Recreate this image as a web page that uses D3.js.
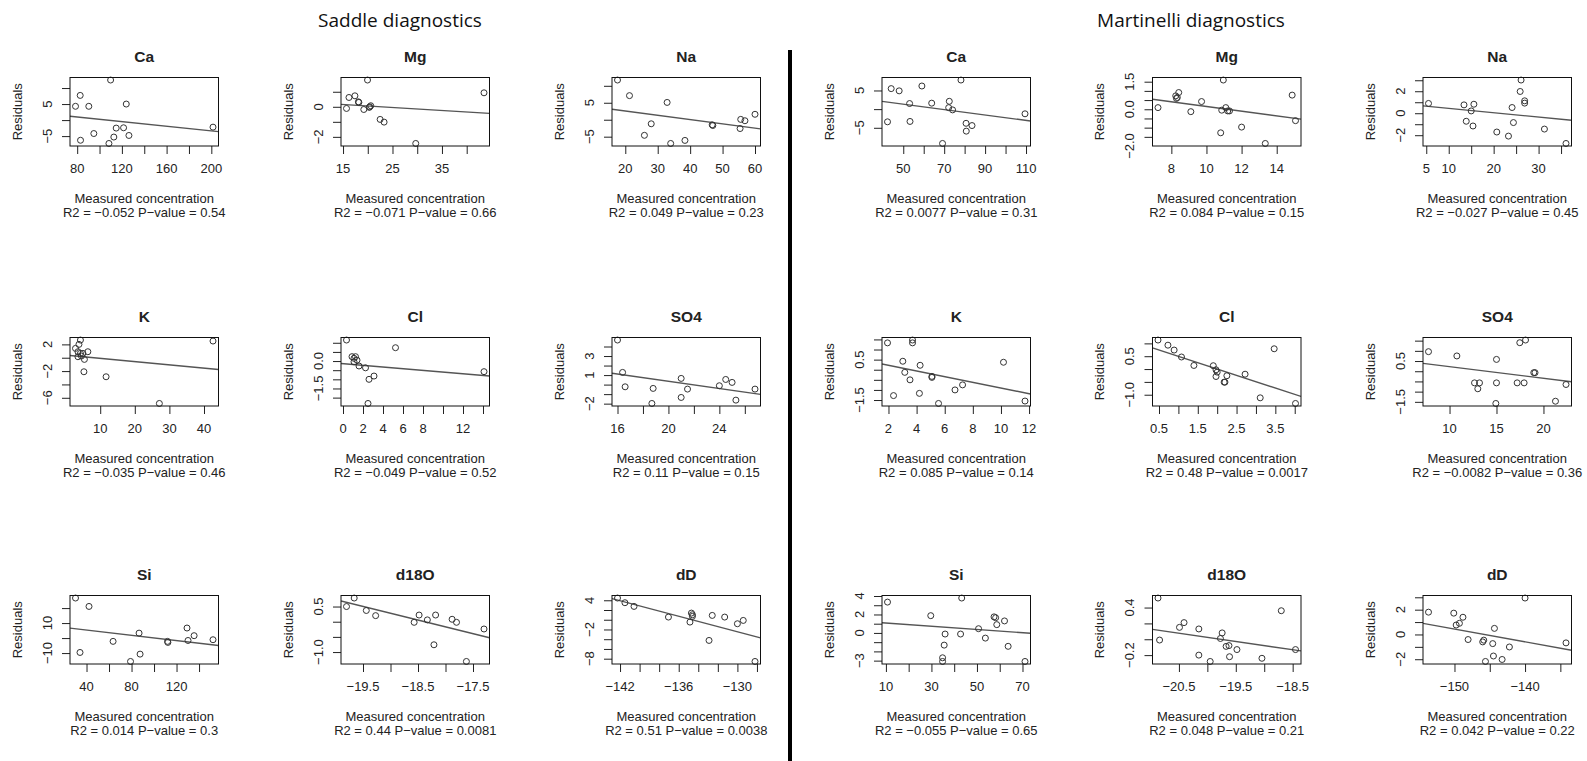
<!DOCTYPE html>
<html>
<head>
<meta charset="utf-8">
<script src="https://cdn.jsdelivr.net/npm/d3@7"></script>
<style>
body { margin: 0; background: #fff; }
svg { display: block; }
text { font-family: "Liberation Sans", Arial, Helvetica, sans-serif; fill: #222; }
.big { font-family: "Open Sans", "Noto Sans", sans-serif; font-size: 19px; fill: #111; }
</style>
</head>
<body>
<div id="chart"></div>
<script>
var W = 1587, H = 761;

// panel order: Ca, Mg, Na, K, Cl, SO4, Si, d18O, dD
var elements = ["Ca", "Mg", "Na", "K", "Cl", "SO4", "Si", "d18O", "dD"];
var sites = ["Saddle diagnostics", "Martinelli diagnostics"];

// ---- Saddle ----
var saddleX = [
  [109.9, 82.7, 78.5, 90.4, 123.9, 201.5, 114.9, 121.5, 94.9, 126.3, 112.8, 83.0, 108.4],
  [19.95, 43.5, 16.2, 17.4, 18.1, 18.2, 15.7, 19.2, 20.3, 20.6, 20.4, 22.5, 23.3, 29.7],
  [17.6, 21.3, 32.9, 60.0, 55.6, 56.9, 55.4, 46.8, 47.0, 28.0, 25.9, 38.4, 34.0],
  [4.29, 2.86, 3.86, 3.57, 4.29, 5.0, 3.57, 4.57, 5.43, 6.43, 5.29, 11.7, 27.1, 42.6],
  [0.35, 5.25, 0.9, 1.1, 1.25, 1.4, 1.1, 1.6, 2.25, 3.1, 2.6, 2.5, 14.1],
  [16.0, 16.4, 16.6, 18.8, 18.7, 21.0, 21.0, 21.5, 24.0, 24.5, 25.0, 25.3, 26.8],
  [30.2, 42.2, 34.2, 63.6, 86.7, 87.6, 79.1, 112, 112.3, 129.3, 130.2, 135.6, 152.4],
  [-19.80, -19.66, -19.44, -19.27, -18.57, -18.48, -18.33, -18.18, -18.21, -17.88, -17.8, -17.62, -17.3],
  [-142.26, -141.5, -140.57, -137.05, -134.7, -134.6, -134.6, -134.85, -132.9, -132.57, -131.3, -130, -129.4, -128.2]
];
var saddleY = [
  [12.5, 7.7, 4.3, 4.3, 5.0, -2.2, -2.5, -2.4, -4.2, -4.8, -5.3, -6.3, -7.3],
  [1.78, 0.93, 0.62, 0.73, 0.33, 0.29, -0.11, -0.18, -0.04, 0.07, 0.0, -0.84, -1.02, -2.44],
  [11.7, 7.1, 5.1, 1.6, 0.1, -0.3, -2.6, -1.5, -1.7, -1.2, -4.6, -6.1, -7.0],
  [2.65, 1.4, 2.0, 0.9, 0.65, 0.65, 0.15, 0.25, -0.25, 0.9, -2.1, -2.85, -6.85, 2.5],
  [1.15, 0.73, 0.24, 0.15, 0.24, 0.05, -0.04, -0.27, -0.37, -0.82, -1.0, -2.32, -0.58],
  [4.68, 1.28, -0.23, -0.4, -1.98, 0.65, -1.35, -0.47, -0.12, 0.54, 0.23, -1.63, -0.47],
  [26.7, 21.1, -9.6, -2.2, 3.3, -10.7, -15.6, -2.2, -2.9, 6.7, -1.6, 1.6, -1.1],
  [0.5, 0.78, 0.37, 0.2, -0.02, 0.22, 0.06, 0.22, -0.76, 0.08, -0.02, -1.31, -0.24],
  [4.46, 3.5, 2.74, 0.55, 1.37, 1.03, 0.69, -0.48, -4.25, 0.89, 0.55, -0.82, -0.14, -8.57]
];
var saddleIntercept = [3.84, 0.447, 5.11, 0.405, -0.1415, 4.138, 8.835, -8.238, -71.56];
var saddleSlope = [-0.0361, -0.0198, -0.1265, -0.0491, -0.046, -0.1896, -0.0875, -0.4483, -0.5315];
var saddleR2 = [-0.052, -0.071, 0.049, -0.035, -0.049, 0.11, 0.014, 0.44, 0.51];
var saddleP = [0.54, 0.66, 0.23, 0.46, 0.52, 0.15, 0.3, 0.0081, 0.0038];

var saddleXTicks = [
  [80, 100, 120, 140, 160, 180, 200], [15, 20, 25, 30, 35, 40], [20, 30, 40, 50, 60],
  [10, 20, 30, 40], [0, 2, 4, 6, 8, 10, 12, 14], [16, 18, 20, 22, 24, 26],
  [40, 60, 80, 100, 120, 140], [-19.5, -19, -18.5, -18, -17.5], [-142, -140, -138, -136, -134, -132, -130, -128]
];
var saddleXLabels = [
  [80, 120, 160, 200], [15, 25, 35], [20, 30, 40, 50, 60],
  [10, 20, 30, 40], [0, 2, 4, 6, 8, 12], [16, 20, 24],
  [40, 80, 120], [-19.5, -18.5, -17.5], [-142, -136, -130]
];
var saddleYTicks = [
  [-5, 0, 5, 10], [-2, -1, 0, 1], [-5, 0, 5, 10],
  [-6, -4, -2, 0, 2], [-2, -1.5, -1, -0.5, 0, 0.5, 1], [-2, -1, 0, 1, 2, 3, 4],
  [-10, 0, 10, 20], [-1, -0.5, 0, 0.5], [-8, -6, -4, -2, 0, 2, 4]
];
var saddleYLabels = [
  [-5, 5], [-2, 0], [-5, 5],
  [-6, -2, 2], [-1.5, 0], [-2, 1, 3],
  [-10, 10], [-1, 0.5], [-8, -2, 4]
];

// ---- Martinelli ----
var martX = [
  [44.1, 48.0, 59.1, 78.2, 53.1, 63.9, 72.5, 72.2, 74.1, 109.5, 42.3, 53.3, 80.7, 83.6, 80.8, 69.2],
  [7.24, 8.25, 8.42, 8.34, 8.29, 9.11, 9.72, 10.96, 14.88, 10.87, 11.10, 11.21, 11.31, 15.07, 12.0, 10.81, 13.35],
  [5.5, 13.4, 15.6, 15.0, 13.9, 15.4, 20.7, 23.3, 24.1, 24.4, 26.1, 25.9, 26.9, 26.9, 31.3, 36.1],
  [1.93, 3.71, 3.71, 3.02, 3.16, 4.25, 3.53, 5.09, 5.09, 4.2, 2.36, 5.56, 6.73, 7.27, 10.18, 11.71],
  [0.474, 0.73, 0.89, 1.08, 1.40, 1.90, 1.97, 2.0, 1.97, 2.25, 2.18, 2.2, 2.72, 3.47, 3.11, 4.02],
  [7.76, 10.78, 15.0, 17.48, 18.09, 12.66, 13.19, 13.01, 15.0, 17.2, 17.94, 18.97, 19.1, 22.4, 21.28, 14.93],
  [10.7, 29.7, 43.3, 36.0, 42.8, 35.6, 34.9, 34.9, 50.7, 53.7, 57.5, 58.2, 58.7, 62.1, 63.7, 71.1],
  [-20.868, -20.84, -20.49, -20.41, -20.15, -20.15, -19.95, -19.77, -19.74, -19.67, -19.62, -19.61, -19.48, -19.04, -18.70, -18.45],
  [-153.68, -150.1, -149.76, -149.3, -148.8, -148.07, -146.0, -145.85, -145.61, -144.58, -144.34, -144.48, -143.25, -142.22, -140.0, -134.2]
];
var martY = [
  [5.5, 4.9, 6.2, 7.8, 1.5, 1.6, 2.1, 0.4, -0.2, -1.25, -3.4, -3.3, -3.8, -4.4, -5.9, -9.2],
  [0.09, 0.73, 0.91, 0.64, 0.59, -0.13, 0.42, 1.59, 0.77, -0.05, 0.09, -0.09, -0.09, -0.62, -0.97, -1.28, -1.86],
  [0.89, 0.76, 0.82, 0.21, -0.73, -1.16, -1.71, -2.08, 0.52, -0.85, 3.02, 1.98, 1.13, 0.92, -1.44, -2.75],
  [1.33, 1.33, 1.47, 0.42, -0.13, 0.22, -0.5, -0.33, -0.38, -1.17, -1.28, -1.67, -1.0, -0.75, 0.37, -1.55],
  [1.13, 0.93, 0.74, 0.47, 0.14, 0.13, -0.03, -0.12, -0.29, -0.26, -0.51, -0.51, -0.2, 0.79, -1.12, -1.34],
  [0.96, 0.75, 0.58, 1.40, 1.53, -0.57, -0.57, -0.86, -0.57, -0.57, -0.57, -0.07, -0.07, -0.65, -1.47, -1.58],
  [3.34, 1.87, 3.78, -0.12, -0.12, -1.32, -2.69, -3.09, 0.46, -0.56, 1.74, 1.65, 0.9, 1.3, -1.45, -3.09],
  [0.52, -0.01, 0.15, 0.21, 0.13, -0.2, -0.28, 0.01, 0.08, -0.09, -0.08, -0.22, -0.13, -0.24, 0.36, -0.13],
  [1.80, 1.72, 0.76, 0.9, 1.39, -0.41, -0.6, -0.46, -2.18, -0.74, 0.49, -1.74, -2.02, -1.01, 2.94, -0.68]
];
var martIntercept = [4.935, 1.432, 0.838, 0.499, 0.992, 0.793, 1.255, -2.0557, -15.037];
var martSlope = [-0.0723, -0.128, -0.0395, -0.1403, -0.4944, -0.057, -0.0175, -0.104, -0.10317];
var martR2 = [0.0077, 0.084, -0.027, 0.085, 0.48, -0.0082, -0.055, 0.048, 0.042];
var martP = [0.31, 0.15, 0.45, 0.14, 0.0017, 0.36, 0.65, 0.21, 0.22];

var martXTicks = [
  [50, 60, 70, 80, 90, 100, 110], [8, 10, 12, 14], [5, 10, 15, 20, 25, 30, 35],
  [2, 4, 6, 8, 10, 12], [0.5, 1, 1.5, 2, 2.5, 3, 3.5, 4], [10, 15, 20],
  [10, 20, 30, 40, 50, 60, 70], [-20.5, -20, -19.5, -19, -18.5], [-150, -145, -140, -135]
];
var martXLabels = [
  [50, 70, 90, 110], [8, 10, 12, 14], [5, 10, 20, 30],
  [2, 4, 6, 8, 10, 12], [0.5, 1.5, 2.5, 3.5], [10, 15, 20],
  [10, 30, 50, 70], [-20.5, -19.5, -18.5], [-150, -140]
];
var martYTicks = [
  [-5, 0, 5], [-2, -1.5, -1, -0.5, 0, 0.5, 1, 1.5], [-2, -1, 0, 1, 2, 3],
  [-1.5, -1, -0.5, 0, 0.5, 1, 1.5], [-1, -0.5, 0, 0.5, 1], [-1.5, -1, -0.5, 0, 0.5, 1, 1.5],
  [-3, -2, -1, 0, 1, 2, 3, 4], [-0.2, 0, 0.2, 0.4], [-2, -1, 0, 1, 2, 3]
];
var martYLabels = [
  [-5, 5], [-2, 0, 1.5], [-2, 0, 2],
  [-1.5, 0.5], [-1, 0.5], [-1.5, 0.5],
  [-3, 0, 2, 4], [-0.2, 0.4], [-2, 0, 2]
];

var colLeft = [70, 341, 612, 882, 1152.5, 1423];
var rowTop = [77.5, 337.5, 595.5];
var pw = 148.5, ph = 68.5;

var svg = d3.select("#chart").append("svg")
  .attr("width", W).attr("height", H);

// site headings and divider
svg.append("text").attr("class", "big").attr("x", 400).attr("y", 27)
  .attr("text-anchor", "middle").text(sites[0]);
svg.append("text").attr("class", "big").attr("x", 1191).attr("y", 27)
  .attr("text-anchor", "middle").text(sites[1]);
svg.append("line").attr("x1", 790).attr("x2", 790).attr("y1", 50).attr("y2", H)
  .style("stroke", "#000").style("stroke-width", 4);

function minus(s) { return String(s).replace(/-/g, "\u2212"); }

function fmt(ticks) {
  var dec = ticks.every(function(t) { return Math.abs(t - Math.round(t)) < 1e-9; }) ? 0 : 1;
  return function(v) { return minus(v.toFixed(dec)); };
}

function pad(ext) {
  var s = ext[1] - ext[0];
  return [ext[0] - 0.04 * s, ext[1] + 0.04 * s];
}

var sets = [
  [saddleX, saddleY, saddleIntercept, saddleSlope, saddleR2, saddleP, saddleXTicks, saddleXLabels, saddleYTicks, saddleYLabels],
  [martX, martY, martIntercept, martSlope, martR2, martP, martXTicks, martXLabels, martYTicks, martYLabels]
];

sets.forEach(function(set, s) {
  elements.forEach(function(el, i) {
    var xs = set[0][i], ys = set[1][i];
    var left = colLeft[s * 3 + i % 3], top = rowTop[Math.floor(i / 3)];
    var g = svg.append("g").attr("transform", "translate(" + left + "," + top + ")");

    var x = d3.scaleLinear().domain(pad(d3.extent(xs))).range([0, pw]);
    var y = d3.scaleLinear().domain(pad(d3.extent(ys))).range([ph, 0]);

    var clipId = "clip" + s + "_" + i;
    g.append("clipPath").attr("id", clipId).append("rect")
      .attr("width", pw).attr("height", ph);

    // fitted line
    var a = set[2][i], b = set[3][i], d = x.domain();
    g.append("line")
      .attr("clip-path", "url(#" + clipId + ")")
      .attr("x1", x(d[0])).attr("y1", y(a + b * d[0]))
      .attr("x2", x(d[1])).attr("y2", y(a + b * d[1]))
      .style("stroke", "#555").style("stroke-width", 1.4);

    // residual points
    g.selectAll("circle").data(d3.range(xs.length)).enter().append("circle")
      .attr("cx", function(k) { return x(xs[k]); })
      .attr("cy", function(k) { return y(ys[k]); })
      .attr("r", 3)
      .style("fill", "none").style("stroke", "#333").style("stroke-width", 1);

    // axes (ticks only, labels drawn separately like R's thinned labels)
    var xt = set[6][i].filter(function(t) { return t >= d[0] && t <= d[1]; });
    var yd = y.domain();
    var yt = set[8][i].filter(function(t) { return t >= yd[0] && t <= yd[1]; });

    g.append("g").attr("transform", "translate(0," + ph + ")")
      .call(d3.axisBottom(x).tickValues(xt).tickSize(8).tickFormat(""))
      .call(function(ax) { ax.select(".domain").remove(); ax.selectAll("line").style("stroke", "#222"); });
    g.append("g")
      .call(d3.axisLeft(y).tickValues(yt).tickSize(8).tickFormat(""))
      .call(function(ax) { ax.select(".domain").remove(); ax.selectAll("line").style("stroke", "#222"); });

    var fx = fmt(set[6][i]), fy = fmt(set[8][i]);
    g.selectAll(".xl").data(set[7][i]).enter().append("text")
      .attr("x", function(v) { return x(v); }).attr("y", ph + 22).attr("dy", "0.35em")
      .attr("text-anchor", "middle").style("font-size", "13px")
      .text(fx);
    g.selectAll(".yl").data(set[9][i]).enter().append("text")
      .attr("transform", function(v) { return "translate(-23," + y(v) + ") rotate(-90)"; })
      .attr("dy", "0.35em").attr("text-anchor", "middle").style("font-size", "13px")
      .text(fy);

    // box
    g.append("rect").attr("width", pw).attr("height", ph)
      .style("fill", "none").style("stroke", "#111").style("stroke-width", 1);

    // titles and labels
    g.append("text").attr("x", pw / 2).attr("y", -20.5).attr("dy", "0.35em")
      .attr("text-anchor", "middle").style("font-size", "15.5px").style("font-weight", "bold")
      .text(el);
    g.append("text")
      .attr("transform", "translate(-53," + ph / 2 + ") rotate(-90)")
      .attr("dy", "0.35em").attr("text-anchor", "middle").style("font-size", "13px")
      .text("Residuals");
    g.append("text").attr("x", pw / 2).attr("y", ph + 52).attr("dy", "0.35em")
      .attr("text-anchor", "middle").style("font-size", "13px")
      .text("Measured concentration");
    g.append("text").attr("x", pw / 2).attr("y", ph + 66.5).attr("dy", "0.35em")
      .attr("text-anchor", "middle").style("font-size", "13px")
      .text("R2 = " + minus(set[4][i]) + " P\u2212value = " + minus(set[5][i]));
  });
});
</script>
</body>
</html>
